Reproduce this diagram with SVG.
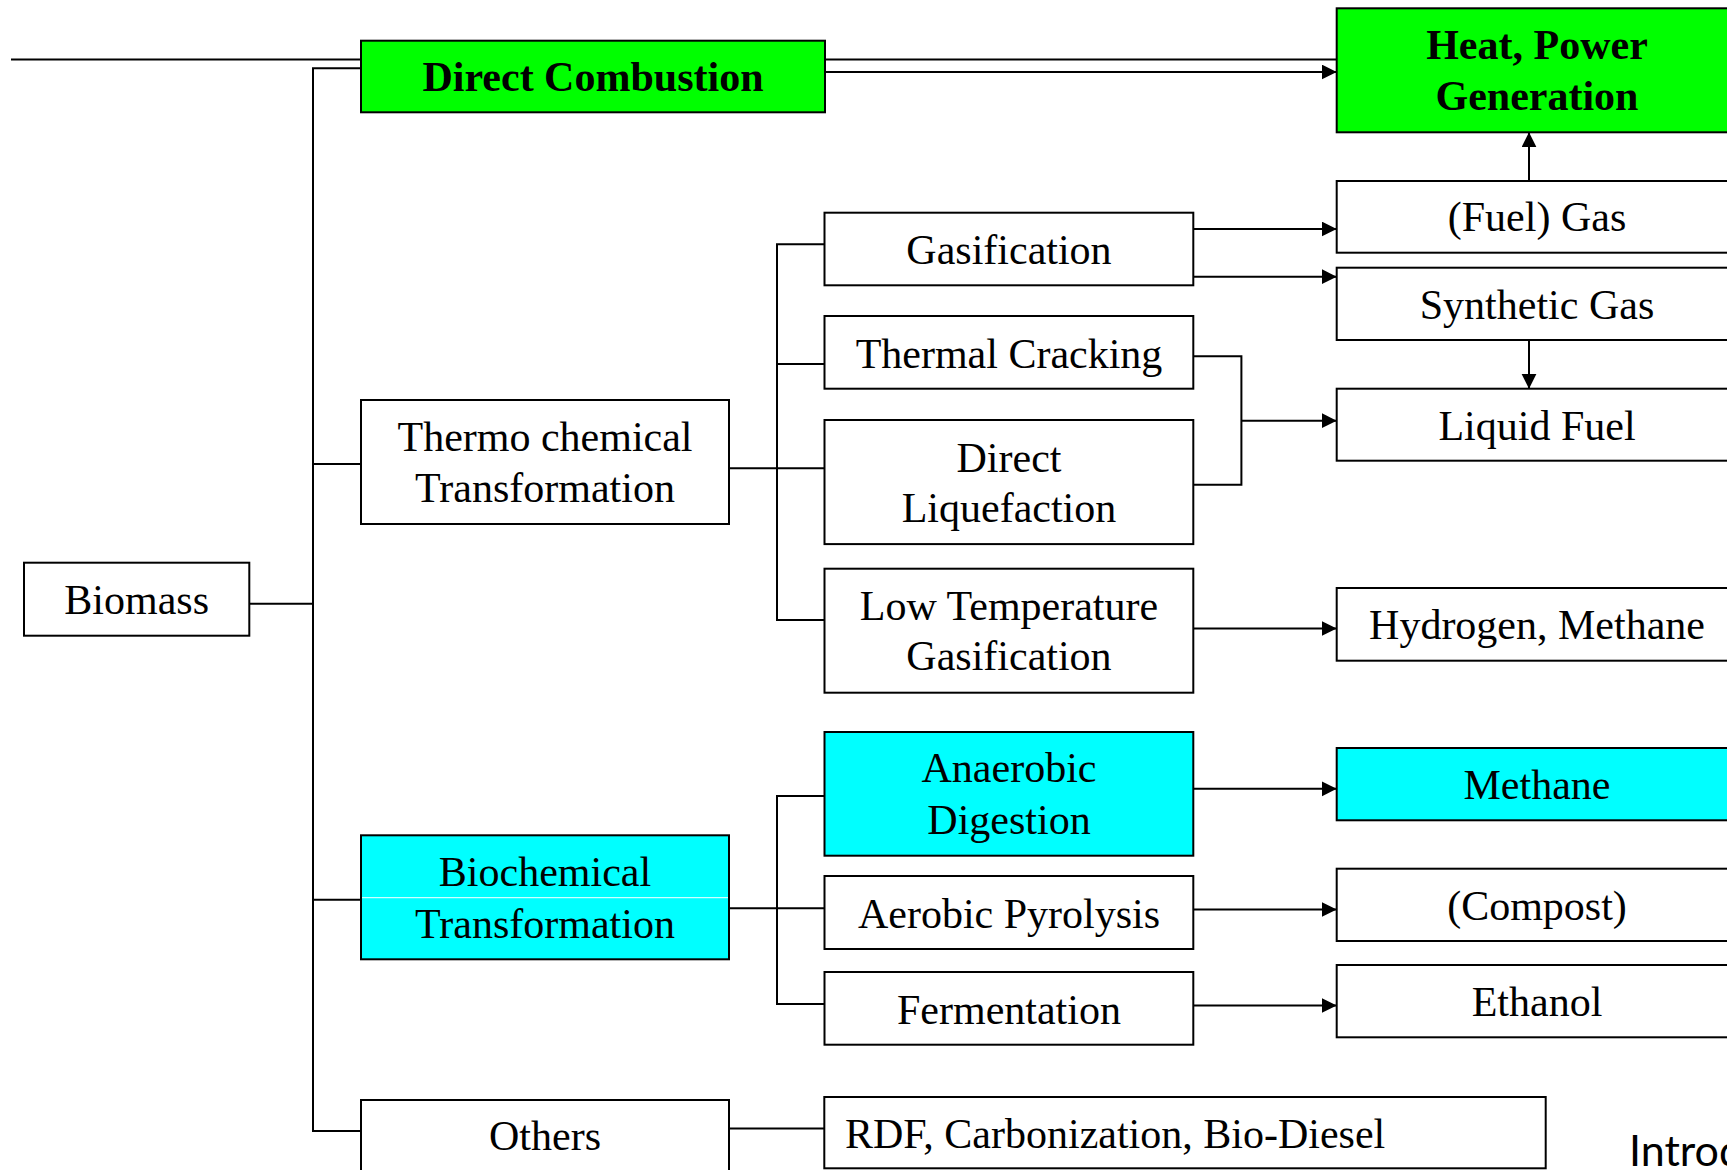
<svg xmlns="http://www.w3.org/2000/svg" width="1727" height="1170" viewBox="0 0 1727 1170">
<style>
.box{fill:#FFFFFF;stroke:#000000;stroke-width:2}
.green{fill:#00FF00}
.cyan{fill:#00FFFF}
.t{font-family:"Liberation Serif","Times New Roman",serif;font-size:42px;fill:#000000;text-anchor:middle}
.b{font-weight:bold}
.c{fill:none;stroke:#000000;stroke-width:2}
.a{fill:none;stroke:#000000;stroke-width:2;marker-end:url(#arr)}
</style>
<defs>
<marker id="arr" markerUnits="userSpaceOnUse" markerWidth="16" markerHeight="16" refX="15" refY="7.5" orient="auto">
<path d="M0,0 L15,7.5 L0,15 Z" fill="#000000"/>
</marker>
</defs>
<rect width="1727" height="1170" fill="#FFFFFF"/>
<g id="connectors">
<path class="c" d="M11,59.5 H1337"/>
<path class="c" d="M361,68.3 H313 V1131 H361"/>
<path class="c" d="M249.3,603.7 H313"/>
<path class="c" d="M313,464 H361"/>
<path class="c" d="M313,899.7 H361"/>
<path class="a" d="M825,72 H1336.7"/>
<path class="c" d="M824.5,244.3 H777 V620 H824.5"/>
<path class="c" d="M777,364 H824.5"/>
<path class="c" d="M729,468.3 H824.5"/>
<path class="c" d="M824.5,796 H777 V1004 H824.5"/>
<path class="c" d="M729,908.3 H824.5"/>
<path class="c" d="M729,1128.5 H824.3"/>
<path class="a" d="M1193.3,229 H1336.7"/>
<path class="a" d="M1193.3,276.7 H1336.7"/>
<path class="c" d="M1193.3,356.3 H1241.4 V484.7 H1193.3"/>
<path class="a" d="M1241.4,420.7 H1336.7"/>
<path class="a" d="M1193.3,628.5 H1336.7"/>
<path class="a" d="M1193.3,788.8 H1336.7"/>
<path class="a" d="M1193.3,909.5 H1336.7"/>
<path class="a" d="M1193.3,1005.5 H1336.7"/>
<path class="a" d="M1529,181 V132.3"/>
<path class="a" d="M1529,340 V388.7"/>
</g>
<g id="biomass"><rect class="box" x="24" y="562.7" width="225.3" height="73"/><text class="t" x="136.7" y="613.5">Biomass</text></g>
<g id="direct-combustion"><rect class="box green" x="361" y="40.7" width="464" height="71.6"/><text class="t b" x="593" y="90.5">Direct Combustion</text></g>
<g id="thermo"><rect class="box" x="361" y="400" width="368" height="124"/><text class="t" x="545" y="451">Thermo chemical</text><text class="t" x="545" y="501.5">Transformation</text></g>
<g id="biochemical"><rect class="box cyan" x="361" y="835.3" width="368" height="124"/><line x1="362" y1="897.7" x2="728" y2="897.7" stroke="#FFFFFF" stroke-width="1"/><text class="t" x="545" y="885.7">Biochemical</text><text class="t" x="545" y="938">Transformation</text></g>
<g id="others"><rect class="box" x="361" y="1100" width="368" height="90"/><text class="t" x="545" y="1150">Others</text></g>
<g id="gasification"><rect class="box" x="824.5" y="212.7" width="368.8" height="72.6"/><text class="t" x="1009" y="264">Gasification</text></g>
<g id="thermal-cracking"><rect class="box" x="824.5" y="316" width="368.8" height="72.7"/><text class="t" x="1009" y="367.5">Thermal Cracking</text></g>
<g id="direct-liquefaction"><rect class="box" x="824.5" y="420" width="368.8" height="124.1"/><text class="t" x="1009" y="471.5">Direct</text><text class="t" x="1009" y="522">Liquefaction</text></g>
<g id="low-temp-gasification"><rect class="box" x="824.5" y="568.7" width="368.8" height="124"/><text class="t" x="1009" y="620">Low Temperature</text><text class="t" x="1009" y="670">Gasification</text></g>
<g id="anaerobic-digestion"><rect class="box cyan" x="824.5" y="732" width="368.8" height="123.7"/><text class="t" x="1009" y="782.3">Anaerobic</text><text class="t" x="1009" y="834">Digestion</text></g>
<g id="aerobic-pyrolysis"><rect class="box" x="824.5" y="876" width="368.8" height="73"/><text class="t" x="1009" y="927.5">Aerobic Pyrolysis</text></g>
<g id="fermentation"><rect class="box" x="824.5" y="972" width="368.8" height="72.7"/><text class="t" x="1009" y="1023.5">Fermentation</text></g>
<g id="rdf"><rect class="box" x="824.3" y="1097" width="721.4" height="71.3"/><text class="t" x="845" y="1148" style="text-anchor:start">RDF, Carbonization, Bio-Diesel</text></g>
<g id="heat-power"><rect class="box green" x="1336.7" y="8.3" width="410" height="124"/><text class="t b" x="1537" y="59.3">Heat, Power</text><text class="t b" x="1537" y="110">Generation</text></g>
<g id="fuel-gas"><rect class="box" x="1336.7" y="181" width="410" height="71.7"/><text class="t" x="1537" y="231">(Fuel) Gas</text></g>
<g id="synthetic-gas"><rect class="box" x="1336.7" y="267.7" width="410" height="72.3"/><text class="t" x="1537" y="318.5">Synthetic Gas</text></g>
<g id="liquid-fuel"><rect class="box" x="1336.7" y="388.7" width="410" height="72"/><text class="t" x="1537" y="440">Liquid Fuel</text></g>
<g id="hydrogen-methane"><rect class="box" x="1336.7" y="588" width="410" height="72.7"/><text class="t" x="1537" y="638.5">Hydrogen, Methane</text></g>
<g id="methane"><rect class="box cyan" x="1336.7" y="748" width="410" height="72.3"/><text class="t" x="1537" y="799">Methane</text></g>
<g id="compost"><rect class="box" x="1336.7" y="868.7" width="410" height="72.3"/><text class="t" x="1537" y="919.5">(Compost)</text></g>
<g id="ethanol"><rect class="box" x="1336.7" y="965" width="410" height="72.3"/><text class="t" x="1537" y="1016">Ethanol</text></g>
<text x="1629" y="1166" style="font-family:Lato,'Open Sans',sans-serif;font-size:43px;fill:#000000">Introd</text>
</svg>
